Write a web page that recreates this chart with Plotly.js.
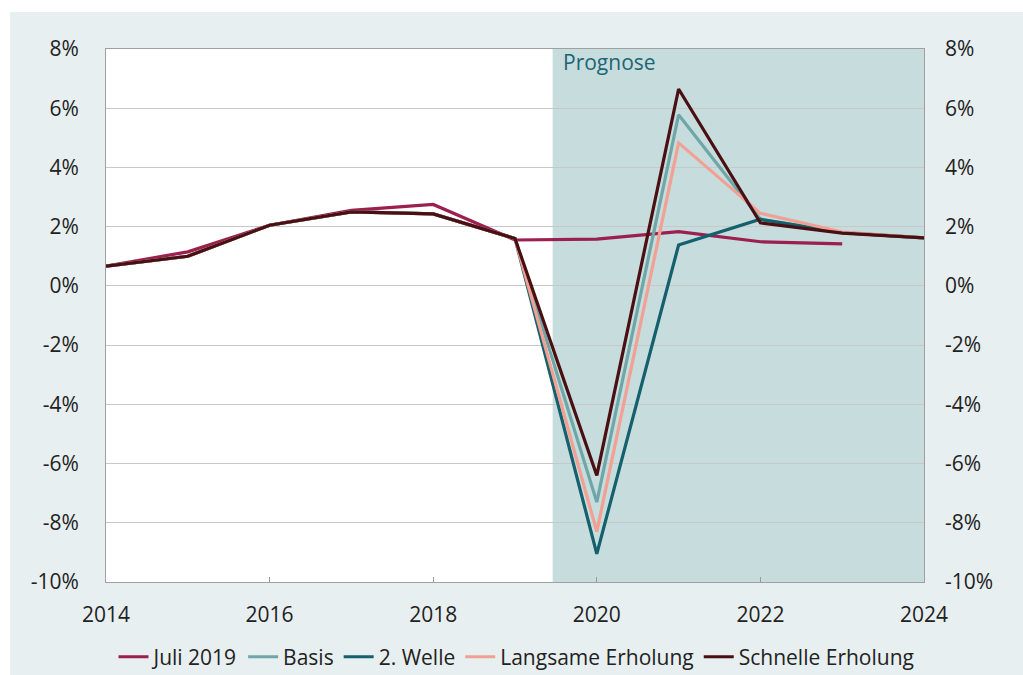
<!DOCTYPE html>
<html><head><meta charset="utf-8">
<script src="https://cdn.plot.ly/plotly-3.0.1.min.js"></script>
<style>
html,body{margin:0;padding:0;background:#ffffff;width:1023px;height:675px;overflow:hidden;}
#chart{position:absolute;left:10px;top:12px;width:1013px;height:663px;}
</style></head>
<body><div id="chart"></div>
<script>
const years = [2014,2015,2016,2017,2018,2019,2020,2021,2022,2023,2024];
const juliYears = [2014,2015,2016,2017,2018,2019,2020,2021,2022,2023];
const juli2019 = [0.67,1.15,2.05,2.55,2.75,1.55,1.58,1.83,1.49,1.42];
const basis = [0.67,1.0,2.05,2.5,2.43,1.6,-7.3,5.78,2.25,1.8,1.62];
const welle2 = [0.67,1.0,2.05,2.5,2.43,1.6,-9.05,1.38,2.25,1.8,1.62];
const langsam = [0.67,1.0,2.05,2.5,2.43,1.6,-8.3,4.83,2.45,1.82,1.62];
const schnell = [0.67,1.0,2.05,2.5,2.43,1.6,-6.4,6.65,2.13,1.78,1.62];
const yTicks = [-10,-8,-6,-4,-2,0,2,4,6,8];
const yTickText = ['-10%','-8%','-6%','-4%','-2%','0%','2%','4%','6%','8%'];
const xTicks = [2014,2016,2018,2020,2022,2024];
const forecastStart = 2019.46;
const forecastEnd = 2024;

const mk = (name, x, y, color) => ({type:'scatter', mode:'lines', name, x, y,
  line:{color, width:3.2}, hoverinfo:'skip'});
const data = [
  mk('Juli 2019', juliYears, juli2019, '#9b1f4f'),
  mk('Basis', years, basis, '#6fa7a8'),
  mk('2. Welle', years, welle2, '#14606c'),
  mk('Langsame Erholung', years, langsam, '#f2a093'),
  mk('Schnelle Erholung', years, schnell, '#4a0f12'),
  {type:'scatter', mode:'lines', x:[2014,2024], y:[null,null], yaxis:'y2', showlegend:false, hoverinfo:'skip'}
];
const font = {family:'"Open Sans", "Noto Sans", sans-serif', size:21, color:'#222'};
const layout = {
  width:1013, height:663,
  margin:{l:96, r:99, t:37, b:93, autoexpand:false},
  paper_bgcolor:'#e8eff0', plot_bgcolor:'#ffffff',
  font,
  showlegend:true,
  legend:{orientation:'h', x:0.5, xanchor:'center', xref:'container', y:0.027, yanchor:'middle', yref:'container',
    font:{...font, size:21}, tracegroupgap:0, bgcolor:'rgba(0,0,0,0)'},
  xaxis:{range:[2014,2024], tickvals:xTicks, ticktext:xTicks.map(String),
    ticks:'inside', ticklen:5, tickcolor:'#999', showgrid:false, zeroline:false,
    showline:true, linecolor:'#a0a0a0', linewidth:1, mirror:true, ticklabelstandoff:14, fixedrange:true},
  yaxis:{range:[-10,8], tickvals:yTicks, ticktext:yTickText, showgrid:true,
    gridcolor:'#c8c8c8', gridwidth:1, zeroline:false, showline:true, linecolor:'#a0a0a0',
    linewidth:1, mirror:true, ticks:'', ticklabelstandoff:22, fixedrange:true},
  yaxis2:{range:[-10,8], tickvals:yTicks, ticktext:yTickText, overlaying:'y', side:'right',
    showgrid:false, zeroline:false, showline:false, ticks:'', ticklabelstandoff:20, fixedrange:true},
  shapes:[{type:'rect', xref:'x', yref:'paper', x0:forecastStart, x1:forecastEnd, y0:0, y1:1,
    fillcolor:'#c6dcdd', line:{width:0}, layer:'below'}],
  annotations:[{xref:'x', yref:'paper', x:forecastStart+0.1, y:1.005, xanchor:'left', yanchor:'top',
    text:'Prognose', showarrow:false, font:{...font, size:21, color:'#1d6575'}}]
};
Plotly.newPlot('chart', data, layout, {displayModeBar:false, staticPlot:true});
</script></body></html>
